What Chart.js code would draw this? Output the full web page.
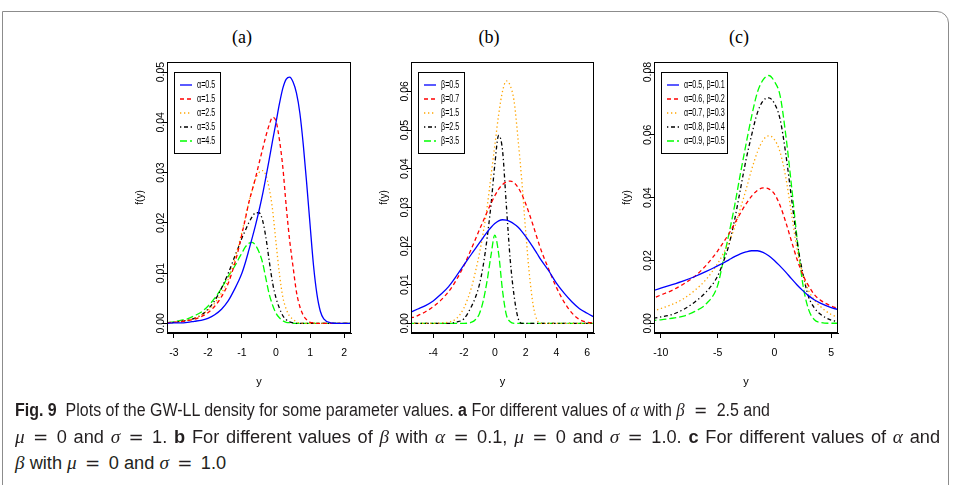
<!DOCTYPE html>
<html><head><meta charset="utf-8">
<script src="https://cdn.jsdelivr.net/npm/chart.js@4.4.1/dist/chart.umd.min.js"></script>
<style>
html,body{margin:0;padding:0;background:#fff;}
body{width:956px;height:485px;position:relative;overflow:hidden;}
.frame{position:absolute;left:2px;top:11px;width:947px;height:520px;border:1px solid #8c8c8c;border-top-right-radius:12px;box-sizing:border-box;}
canvas{position:absolute;top:50px;}
.pt{position:absolute;top:27px;font-family:'Liberation Serif',serif;font-size:18px;line-height:20px;transform:translateX(-50%);color:#000;}
.cap{position:absolute;left:15px;font-family:'Liberation Sans',sans-serif;font-size:18px;line-height:22px;white-space:nowrap;color:#231f20;transform-origin:0 50%;}
.m{font-family:'Liberation Serif',serif;font-style:italic;font-size:19px;}
.eq{display:inline-block;text-align:center;font-family:'DejaVu Sans',sans-serif;}
</style></head>
<body>
<div class="frame"></div>
<div class="pt" style="left:242px">(a)</div>
<div class="pt" style="left:489px">(b)</div>
<div class="pt" style="left:739px">(c)</div>
<canvas id="ca" width="260" height="350" style="left:100px"></canvas>
<canvas id="cb" width="260" height="350" style="left:344px"></canvas>
<canvas id="cc" width="260" height="350" style="left:587px"></canvas>
<div class="cap" id="l1" style="top:399px"><b>Fig. 9</b>&nbsp; Plots of the GW-LL density for some parameter values. <b>a</b> For different values of <span class="m">α</span> with <span class="m">β</span><span class="eq">=</span>2.5 and</div>
<div class="cap" id="l2" style="top:426px"><span class="m">μ</span><span class="eq">=</span>0 and <span class="m">σ</span><span class="eq">=</span>1. <b>b</b> For different values of <span class="m">β</span> with <span class="m">α</span><span class="eq">=</span>0.1, <span class="m">μ</span><span class="eq">=</span>0 and <span class="m">σ</span><span class="eq">=</span>1.0. <b>c</b> For different values of <span class="m">α</span> and</div>
<div class="cap" id="l3" style="top:452px"><span class="m">β</span> with <span class="m">μ</span><span class="eq">=</span>0 and <span class="m">σ</span><span class="eq">=</span>1.0</div>
<script>
// ---------- Panel (a): different alpha, beta = 2.5 ----------
const xA = [-3.2,-3.0,-2.8,-2.6,-2.4,-2.2,-2.0,-1.8,-1.6,-1.4,-1.2,-1.1,-1.0,-0.9,-0.8,-0.7,-0.6,-0.5,-0.4,-0.3,-0.2,-0.1,0,0.1,0.2,0.3,0.4,0.5,0.6,0.7,0.8,0.9,1.0,1.1,1.2,1.3,1.4,1.6,1.8,2.0,2.2];
const aAlpha05 = [0.0000,0.0001,0.0001,0.0002,0.0004,0.0006,0.0010,0.0017,0.0028,0.0045,0.0070,0.0084,0.0100,0.0121,0.0145,0.0170,0.0196,0.0224,0.0255,0.0290,0.0326,0.0364,0.0400,0.0437,0.0468,0.0486,0.0490,0.0480,0.0458,0.0418,0.0355,0.0278,0.0195,0.0115,0.0058,0.0024,0.0009,0.0001,0,0,0];
const aAlpha15 = [0.0001,0.0002,0.0003,0.0005,0.0008,0.0013,0.0021,0.0034,0.0053,0.0080,0.0122,0.0148,0.0178,0.0208,0.0240,0.0265,0.0290,0.0318,0.0345,0.0372,0.0395,0.0410,0.0402,0.0365,0.0310,0.0232,0.0165,0.0112,0.0062,0.0033,0.0016,0.0007,0.0002,0.0001,0,0,0,0,0,0,0];
const aAlpha25 = [0.0001,0.0002,0.0004,0.0006,0.0010,0.0016,0.0026,0.0040,0.0060,0.0088,0.0130,0.0155,0.0182,0.0210,0.0240,0.0265,0.0287,0.0300,0.0304,0.0295,0.0268,0.0225,0.0160,0.0098,0.0052,0.0028,0.0014,0.0008,0.0003,0.0001,0,0,0,0,0,0,0,0,0,0,0];
const aAlpha35 = [0.0001,0.0002,0.0004,0.0006,0.0010,0.0016,0.0028,0.0045,0.0070,0.0100,0.0135,0.0152,0.0170,0.0185,0.0200,0.0212,0.0220,0.0220,0.0206,0.0172,0.0124,0.0080,0.0050,0.0030,0.0015,0.0007,0.0003,0.0001,0,0,0,0,0,0,0,0,0,0,0,0,0];
const aAlpha45 = [0.0001,0.0003,0.0006,0.0009,0.0015,0.0022,0.0034,0.0050,0.0070,0.0094,0.0115,0.0128,0.0140,0.0152,0.0159,0.0161,0.0155,0.0142,0.0122,0.0090,0.0058,0.0036,0.0020,0.0011,0.0005,0.0002,0.0001,0,0,0,0,0,0,0,0,0,0,0,0,0,0];
const xTicksA = [-3,-2,-1,0,1,2];
const yTicksA = [0,0.01,0.02,0.03,0.04,0.05];
const labelsA = ['α=0.5','α=1.5','α=2.5','α=3.5','α=4.5'];

// ---------- Panel (b): different beta, alpha = 0.1 ----------
const xB = [-5.5,-5,-4.5,-4,-3.5,-3,-2.5,-2,-1.5,-1.25,-1,-0.75,-0.5,-0.25,0,0.25,0.5,0.75,1,1.25,1.5,1.75,2,2.25,2.5,2.75,3,3.5,4,4.5,5,5.5,6,6.5];
const bBeta05 = [0.0028,0.0037,0.0046,0.0058,0.0075,0.0095,0.0122,0.0151,0.0180,0.0194,0.0208,0.0222,0.0236,0.0248,0.0258,0.0265,0.0268,0.0267,0.0263,0.0257,0.0249,0.0238,0.0225,0.0211,0.0196,0.0180,0.0164,0.0136,0.0104,0.0078,0.0056,0.0038,0.0026,0.0015];
const bBeta07 = [0.0013,0.0020,0.0030,0.0043,0.0060,0.0082,0.0112,0.0150,0.0195,0.0218,0.0242,0.0265,0.0288,0.0310,0.0330,0.0347,0.0359,0.0366,0.0368,0.0364,0.0352,0.0334,0.0310,0.0282,0.0252,0.0220,0.0190,0.0140,0.0093,0.0055,0.0027,0.0010,0.0003,0.0001];
const bBeta15 = [0,0,0,0,0.0001,0.0003,0.0012,0.0040,0.0095,0.0135,0.0180,0.0235,0.0300,0.0380,0.0460,0.0540,0.0600,0.0627,0.0615,0.0575,0.0480,0.0370,0.0240,0.0125,0.0045,0.0008,0,0,0,0,0,0,0,0];
const bBeta25 = [0,0,0,0,0,0,0.0003,0.0012,0.0045,0.0068,0.0100,0.0150,0.0220,0.0305,0.0410,0.0486,0.0448,0.0305,0.0165,0.0072,0.0015,0,0,0,0,0,0,0,0,0,0,0,0,0];
const bBeta35 = [0,0,0,0,0,0,0,0,0.0003,0.0010,0.0025,0.0058,0.0110,0.0175,0.0228,0.0180,0.0085,0.0022,0.0004,0,0,0,0,0,0,0,0,0,0,0,0,0,0,0];
const xTicksB = [-4,-2,0,2,4,6];
const yTicksB = [0,0.01,0.02,0.03,0.04,0.05,0.06];
const labelsB = ['β=0.5','β=0.7','β=1.5','β=2.5','β=3.5'];

// ---------- Panel (c): different alpha and beta ----------
const xC = [-11,-10,-9,-8,-7,-6,-5,-4.5,-4,-3.5,-3,-2.5,-2,-1.5,-1,-0.5,0,0.5,1,1.5,2,2.5,3,3.5,4,5,6];
const cPair1 = [0.0100,0.0112,0.0123,0.0135,0.0149,0.0165,0.0183,0.0192,0.0202,0.0212,0.0221,0.0227,0.0231,0.0231,0.0226,0.0215,0.0200,0.0182,0.0163,0.0142,0.0122,0.0104,0.0088,0.0075,0.0065,0.0050,0.0040];
const cPair2 = [0.0075,0.0090,0.0105,0.0125,0.0150,0.0185,0.0230,0.0257,0.0285,0.0318,0.0350,0.0380,0.0405,0.0423,0.0431,0.0428,0.0412,0.0375,0.0322,0.0262,0.0203,0.0155,0.0120,0.0092,0.0075,0.0055,0.0043];
const cPair3 = [0.0035,0.0047,0.0060,0.0078,0.0105,0.0140,0.0190,0.0222,0.0260,0.0305,0.0365,0.0425,0.0490,0.0545,0.0583,0.0597,0.0585,0.0545,0.0465,0.0350,0.0235,0.0155,0.0105,0.0075,0.0055,0.0028,0.0015];
const cPair4 = [0.0014,0.0020,0.0028,0.0044,0.0068,0.0100,0.0150,0.0195,0.0250,0.0330,0.0425,0.0520,0.0600,0.0670,0.0708,0.0718,0.0700,0.0650,0.0540,0.0400,0.0260,0.0160,0.0085,0.0050,0.0030,0.0010,0.0005];
const cPair5 = [0.0008,0.0011,0.0016,0.0023,0.0038,0.0062,0.0120,0.0200,0.0285,0.0375,0.0475,0.0570,0.0660,0.0735,0.0775,0.0789,0.0770,0.0725,0.0600,0.0440,0.0270,0.0125,0.0045,0.0012,0.0003,0,0];
const xTicksC = [-10,-5,0,5];
const yTicksC = [0,0.02,0.04,0.06,0.08];
const labelsC = ['α=0.5, β=0.1','α=0.6, β=0.2','α=0.7, β=0.3','α=0.8, β=0.4','α=0.9, β=0.5'];

// ---------- styles ----------
const COLORS = ['#0000ff','#ff0000','#ffa500','#000000','#00ff00'];
const DASHES = [[],[4,3],[1.3,2.7],[1.3,2.7,4,2.7],[7,3]];

// caption layout
(function(){
  const EQ = 32;                       // on-screen width of an " = " block
  const l1 = document.getElementById('l1'), l2 = document.getElementById('l2'), l3 = document.getElementById('l3');
  const all = [l1,l2,l3];
  all.forEach(el=>el.querySelectorAll('.eq').forEach(e=>{e.style.width='0px';}));
  const S1 = (755 - EQ) / l1.getBoundingClientRect().width;
  const S2 = S1 * 1.14;
  [[l1,S1],[l2,S2],[l3,S2]].forEach(([el,S])=>{
    el.querySelectorAll('.eq').forEach(e=>{e.style.width=(EQ/S)+'px';});
    el.style.transform = 'scaleX(' + S + ')';
  });
  const w0 = l2.getBoundingClientRect().width;
  l2.style.wordSpacing = '10px';
  const w10 = l2.getBoundingClientRect().width;
  const ws = (925 - w0) / ((w10 - w0) / 10);
  l2.style.wordSpacing = Math.max(0, Math.min(3, ws)) + 'px';
})();

const boxPlugin = {
  id:'rbox',
  afterDraw(chart){
    const a = chart.chartArea, ctx = chart.ctx;
    ctx.save(); ctx.strokeStyle='#000'; ctx.lineWidth=1;
    ctx.strokeRect(Math.round(a.left)+0.5, Math.round(a.top)+0.5, Math.round(a.right-a.left)-1, Math.round(a.bottom-a.top)-1);
    ctx.restore();
  }
};
const legendPlugin = {
  id:'inset',
  afterDatasetsDraw(chart, args, o){
    const ctx = chart.ctx, a = chart.chartArea;
    const bx = Math.round(a.left)+7, by = Math.round(a.top)+10, bw = o.width, bh = 81;
    ctx.save();
    ctx.fillStyle='#fff'; ctx.fillRect(bx,by,bw,bh);
    ctx.strokeStyle='#000'; ctx.lineWidth=1; ctx.setLineDash([]);
    ctx.strokeRect(bx+0.5,by+0.5,bw,bh);
    chart.data.datasets.forEach((ds,i)=>{
      const y = by + 13 + i*14;
      ctx.strokeStyle = ds.borderColor; ctx.lineWidth = ds.borderWidth; ctx.setLineDash(ds.borderDash||[]);
      ctx.beginPath(); ctx.moveTo(bx+6,y); ctx.lineTo(bx+18,y); ctx.stroke();
      ctx.setLineDash([]);
      ctx.save();
      ctx.translate(bx+23, y+0.5);
      ctx.scale(0.72, 1);
      ctx.fillStyle='#000'; ctx.font='10px "Liberation Sans", sans-serif';
      ctx.textBaseline='middle'; ctx.textAlign='left';
      ctx.fillText(ds.label, 0, 0);
      ctx.restore();
    });
    ctx.restore();
  }
};

function makePanel(id, xs, series, labels, xmin, xmax, ymin, ymax, xTicks, yTicks, legendW, padRight){
  const datasets = series.map((ys,i)=>({
    label: labels[i],
    data: xs.map((x,j)=>({x:x, y:ys[j]})),
    borderColor: COLORS[i], borderWidth: 1.3, borderDash: DASHES[i],
    pointRadius: 0, fill:false, cubicInterpolationMode:'monotone', clip: 0
  }));
  new Chart(document.getElementById(id), {
    type:'line',
    data:{datasets},
    plugins:[boxPlugin, legendPlugin],
    options:{
      responsive:false, animation:false, events:[],
      layout:{padding:{top:12,right:padRight,left:0,bottom:0}},
      plugins:{legend:{display:false}, title:{display:false}, tooltip:{enabled:false}, inset:{width:legendW}},
      scales:{
        x:{type:'linear', min:xmin, max:xmax,
          afterBuildTicks:s=>{s.ticks = xTicks.map(v=>({value:v}));},
          afterFit:s=>{s.height = 67;},
          grid:{display:true, drawOnChartArea:false, drawTicks:true, tickLength:5, tickColor:'#000', color:'#000'},
          border:{display:true, color:'#000', width:1},
          ticks:{maxRotation:0, minRotation:0, autoSkip:false, padding:9, color:'#000',
            font:{family:'"Liberation Sans", sans-serif', size:10.5},
            callback:v=>String(v)},
          title:{display:true, text:'y', color:'#000', font:{family:'"Liberation Sans", sans-serif', size:11}, padding:{top:0,bottom:11}}
        },
        y:{type:'linear', min:ymin, max:ymax,
          afterBuildTicks:s=>{s.ticks = yTicks.map(v=>({value:v}));},
          afterFit:s=>{s.width = 67;},
          grid:{display:true, drawOnChartArea:false, drawTicks:true, tickLength:5, tickColor:'#000', color:'#000'},
          border:{display:true, color:'#000', width:1},
          ticks:{minRotation:90, maxRotation:90, autoSkip:false, crossAlign:'center', padding:-9, color:'#000',
            font:{family:'"Liberation Sans", sans-serif', size:10.5},
            callback:v=>v.toFixed(2)},
          title:{display:true, text:'f(y)', color:'#000', font:{family:'"Liberation Sans", sans-serif', size:10}, padding:{top:34,bottom:0}}
        }
      }
    }
  });
}

makePanel('ca', xA, [aAlpha05,aAlpha15,aAlpha25,aAlpha35,aAlpha45], labelsA, -3.2, 2.2, -0.00193, 0.052, xTicksA, yTicksA, 46, 9);
makePanel('cb', xB, [bBeta05,bBeta07,bBeta15,bBeta25,bBeta35], labelsB, -5.44, 6.44, -0.0025, 0.0676, xTicksB, yTicksB, 46, 10);
makePanel('cc', xC, [cPair1,cPair2,cPair3,cPair4,cPair5], labelsC, -10.6, 5.6, -0.0031, 0.0832, xTicksC, yTicksC, 66, 9);
</script>
</body></html>
